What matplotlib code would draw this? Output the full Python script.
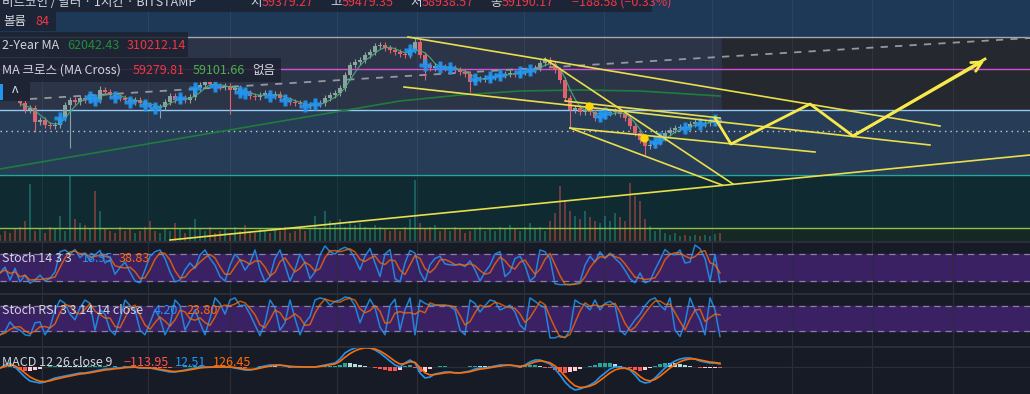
import matplotlib
matplotlib.use("Agg")
import matplotlib.pyplot as plt
from matplotlib.patches import Rectangle
import numpy as np
import pandas as pd

plt.rcParams['font.family'] = ['Noto Sans CJK KR', 'DejaVu Sans']

W, H = 1030, 394

# ---------------- data ----------------
# price samples every 5 bars, starting at bar 20
price_x = np.arange(20, 721, 5)
closes = [59700, 59000, 59200, 57800, 58000, 57500, 57400, 57500, 58200, 59500,
          60000, 59800, 60200, 60000, 60300, 60000, 61000, 60800, 60500, 60300,
          60200, 60000, 59800, 60000, 59700, 59500, 59400, 59200, 59300, 59800,
          60400, 60000, 60200, 60000, 60300, 61200, 61500, 61800, 61600, 61400,
          61300, 61400, 61000, 61200, 60800, 60700, 60400, 60300, 60500, 60700,
          60400, 60600, 60200, 60000, 59800, 59700, 59600, 59400, 59500, 59600,
          59700, 60200, 60500, 60700, 61200, 62500, 63500, 63800, 64000, 64500,
          64800, 65400, 65500, 65200, 65000, 64800, 64600, 64500, 65000, 65800,
          64500, 63500, 63200, 63400, 63300, 63200, 63200, 63000, 62800, 62600,
          61800, 62100, 62100, 62200, 62300, 62400, 62500, 62600, 62700, 62600,
          62800, 62900, 63000, 63200, 63700, 64000, 63600, 63000, 62000, 60200,
          59000, 59200, 58800, 59000, 58800, 58200, 58400, 58700, 58800, 58900,
          58600, 58200, 57400, 56700, 56000, 55400, 55500, 55800, 56200, 56700,
          57000, 57200, 57300, 57200, 57600, 57800, 57600, 57700, 57800, 58000,
          57800]
low_wicks = {35: 56800, 70: 55200, 160: 58200, 230: 58600, 425: 62000,
             470: 60800, 570: 57200, 645: 54500}
high_wicks = {100: 61400, 415: 66300, 545: 64300}

# buy-signal crosses (bar positions)
cross_x = [60, 90, 95, 115, 130, 145, 155, 180, 195, 215, 240, 245, 270, 285,
           305, 315, 410, 425, 440, 450, 475, 490, 500, 520, 530, 600, 605,
           655, 660, 685, 700, 715]
dot_x = [589, 644]
dot_y = [59400, 56200]

# long moving average
ma_long_x = [0, 100, 200, 300, 400, 460, 520, 580, 640, 720]
ma_long_y = [53100, 54800, 56500, 58200, 59900, 60500, 60900, 61000, 60900, 60400]

# indicators sampled every 5 bars from bar 0
ind_x = np.arange(0, 721, 5)
volume = [6, 10, 8, 12, 14, 20, 57, 10, 12, 8,
          14, 12, 25, 10, 65, 22, 18, 16, 12, 50,
          30, 12, 10, 8, 14, 10, 12, 8, 10, 14,
          20, 10, 8, 12, 10, 18, 12, 8, 14, 22,
          12, 10, 14, 8, 10, 12, 8, 14, 10, 16,
          10, 8, 12, 10, 8, 12, 10, 14, 8, 10,
          14, 10, 12, 25, 12, 30, 20, 18, 22, 14,
          20, 16, 18, 14, 12, 16, 14, 12, 10, 12,
          10, 14, 22, 61, 18, 12, 14, 16, 10, 12,
          10, 14, 12, 8, 10, 12, 14, 10, 12, 10,
          14, 12, 16, 12, 10, 14, 18, 12, 14, 10,
          20, 28, 55, 40, 30, 25, 22, 30, 24, 20,
          18, 25, 20, 28, 24, 20, 58, 45, 40, 22,
          15, 10, 12, 8, 6, 8, 5, 6, 5, 6,
          5, 6, 5, 7, 8]
stoch_k = [38, 51, 22, 48, 18, 33, 15, 22, 33, 20,
           26, 40, 85, 89, 80, 90, 72, 82, 65, 78,
           88, 60, 67, 35, 50, 62, 40, 20, 16, 45,
           75, 85, 89, 70, 40, 18, 22, 45, 60, 48,
           78, 89, 70, 55, 30, 20, 55, 80, 67, 44,
           60, 89, 45, 18, 30, 70, 89, 55, 20, 45,
           80, 60, 25, 40, 78, 98, 85, 80, 90, 95,
           89, 70, 45, 75, 92, 60, 30, 80, 90, 25,
           18, 60, 88, 82, 40, 20, 56, 70, 75, 58,
           56, 55, 58, 52, 65, 45, 20, 40, 55, 80,
           85, 30, 40, 70, 75, 55, 20, 30, 89, 85,
           70, 14, 12, 12, 12, 14, 18, 55, 75, 62,
           85, 70, 82, 70, 60, 44, 25, 16, 38, 16,
           20, 45, 67, 90, 80, 78, 89, 60, 62, 100,
           92, 70, 20, 78, 16]
stochrsi_k = [12, 20, 42, 28, 23, 12, 10, 40, 42, 12,
              30, 70, 93, 85, 60, 47, 75, 93, 85, 23,
              70, 60, 23, 12, 50, 93, 80, 70, 23, 12,
              40, 70, 50, 12, 35, 93, 80, 23, 45, 70,
              40, 12, 50, 98, 85, 60, 93, 98, 80, 81,
              60, 35, 10, 40, 93, 75, 23, 40, 93, 50,
              12, 40, 55, 93, 98, 95, 81, 90, 93, 100,
              98, 80, 40, 70, 95, 75, 30, 12, 80, 95,
              23, 70, 98, 12, 93, 85, 81, 80, 81, 81,
              78, 70, 23, 12, 93, 85, 65, 80, 93, 90,
              70, 75, 81, 65, 35, 23, 98, 90, 81, 75,
              5, 5, 10, 5, 23, 93, 85, 81, 70, 93,
              70, 85, 90, 81, 23, 12, 30, 47, 60, 80,
              93, 98, 81, 70, 98, 23, 8, 40, 98, 70,
              47, 12, 98, 70, 8]
macd_line = [-10, 20, 40, 0, -50, -100, -140, -150, -160, -150,
             -130, -110, -100, -90, -80, -70, -60, -60, -50, -40,
             -30, -20, -20, -10, -10, 0, 0, 0, -10, -10,
             -10, -20, -30, -40, -50, -50, -40, -30, -20, -10,
             0, 0, 0, 0, 0, 0, 0, -10, -20, -30,
             -30, -20, 0, 10, 20, 20, 20, 10, 0, 0,
             0, 0, 0, 0, 10, 20, 30, 40, 80, 140,
             170, 190, 200, 200, 190, 170, 140, 100, 60, 20,
             0, 40, 70, 40, -60, -110, -100, -70, -60, -50,
             -50, -60, -60, -50, -40, -20, -10, -10, 0, 10,
             20, 20, 20, 10, 0, 20, 50, 70, 70, 50,
             30, -20, -80, -150, -200, -230, -220, -200, -180, -150,
             -100, -60, -20, 0, 0, -10, -30, -80, -140, -160,
             -150, -110, -60, -10, 30, 60, 80, 90, 90, 80,
             60, 50, 40, 40, 30]

# horizontal levels drawn on the chart
lvl_gray, lvl_magenta, lvl_blue, lvl_dotted, lvl_teal, lvl_green = 66300, 63100, 59000, 56900, 52500, 47200

# yellow trendlines (bar, price)
trendlines = [((408, 66300), (940, 57400)),
              ((404, 61300), (930, 55500)),
              ((565, 59900), (720, 58200)),
              ((570, 57200), (815, 54800)),
              ((570, 57200), (722, 51500)),
              ((545, 64100), (733, 51600)),
              ((170, 46000), (1030, 54500))]
zigzag_x = [715, 731, 810, 853, 985]
zigzag_y = [58200, 55600, 59600, 56400, 64100]
dashed_x = [30, 1030]
dashed_y = [60100, 66200]

grid_x = [42, 148, 230, 337, 417, 524, 604, 712, 792, 872, 953]

# ---------------- figure ----------------
fig = plt.figure(figsize=(W / 100, H / 100), dpi=100)
fig.patch.set_facecolor('#171b26')


def rect(x0, y0, x1, y1):
    return [x0 / W, 1 - y1 / H, (x1 - x0) / W, (y1 - y0) / H]


ax = fig.add_axes(rect(0, 0, W, 241))
ax.set_xlim(0, W)
ax.set_ylim(45900, 70000)
ax.axis('off')

# background zones
ax.axhspan(45900, 70000, color='#273c57', zorder=0)
ax.fill_between([0, W], 66300, 70000, color='#1e3858', zorder=0)
ax.fill_between([0, 722], 59000, 66300, color='#2c3447', zorder=0)
ax.fill_between([722, W], 59000, 66300, color='#26282f', zorder=0)
ax.fill_between([0, W], 47200, 52500, color='#0f2b31', zorder=0)
ax.fill_between([0, W], 45900, 47200, color='#152826', zorder=0)
for gx in grid_x:
    ax.axvline(gx, color='white', alpha=0.06, lw=0.8, zorder=1)

# volume
closes_a = np.array(closes)
vol_up = []
for x in ind_x:
    if x <= 20:
        vol_up.append(False)
    else:
        i = (x - 20) // 5
        vol_up.append(closes_a[i] >= closes_a[i - 1])
vol_cols = ['#26a69a' if u else '#ef5350' for u in vol_up]
ax.bar(ind_x, np.array(volume) * 100, bottom=45900, width=2.4, color=vol_cols,
       alpha=0.42, zorder=2)

# horizontal levels
ax.axhline(lvl_gray, color='#a4a7b0', lw=1, zorder=3)
ax.axhline(lvl_magenta, color='#d84fd6', lw=1, zorder=3)
ax.axhline(lvl_blue, color='#90caf9', lw=1, zorder=3)
ax.axhline(lvl_dotted, color='#c9cbd1', lw=1, ls=(0, (1, 3)), zorder=3)
ax.axhline(lvl_teal, color='#26a69a', lw=1, zorder=3)
ax.axhline(lvl_green, color='#8bc34a', lw=1, zorder=3)

ax.plot(dashed_x, dashed_y, color='#9598a1', lw=1.3, ls=(0, (4, 4)), zorder=3)
ax.plot(ma_long_x, ma_long_y, color='#1e7d3c', lw=1.2, zorder=3)

# candles
opens = [closes[0] + 200] + closes[:-1]
up_col, down_col = '#8aa3a0', '#e0626e'
for x, o, c in zip(price_x, opens, closes):
    col = up_col if c >= o else down_col
    hi = high_wicks.get(int(x), max(o, c) + 280)
    lo = low_wicks.get(int(x), min(o, c) - 280)
    ax.vlines(x, lo, hi, color=col, lw=0.8, zorder=4)
    ax.bar(x, max(abs(c - o), 100), bottom=min(o, c), width=3.4, color=col, zorder=4)

ma_short = pd.Series(closes).rolling(4, min_periods=1).mean()
ax.plot(price_x, ma_short, color='#4caf7d', lw=0.9, alpha=0.85, zorder=5)

cross_y = [closes[(x - 20) // 5] for x in cross_x]
ax.plot(cross_x, cross_y, 'P', color='#2196f3', ms=8.5, mec='none', alpha=0.9, zorder=6)

# drawings
for (x0, y0), (x1, y1) in trendlines:
    ax.plot([x0, x1], [y0, y1], color='#e9df4c', lw=1.2, zorder=7)
ax.plot(zigzag_x, zigzag_y, color='#f7e94a', lw=2, zorder=7)
ax.annotate('', xy=(zigzag_x[-1] + 2, zigzag_y[-1]), xytext=(zigzag_x[-2], zigzag_y[-2]),
            arrowprops=dict(arrowstyle='->', color='#f7e94a', lw=2, mutation_scale=18),
            zorder=7)
ax.plot(dot_x, dot_y, 'o', color='#ffd600', ms=5, zorder=8)


# ---------------- oscillator panes ----------------
def osc_pane(y0, y1, ylim, k):
    a = fig.add_axes(rect(0, y0, W, y1))
    a.set_xlim(0, W)
    a.set_ylim(*ylim)
    a.axis('off')
    a.add_patch(Rectangle((0, ylim[0]), W, ylim[1] - ylim[0], color='#171b26', zorder=0))
    a.axhspan(20, 80, color='#3a2163', zorder=1)
    a.axhline(80, color='#8a7fa0', lw=0.9, ls=(0, (5, 4)), zorder=2)
    a.axhline(20, color='#8a7fa0', lw=0.9, ls=(0, (5, 4)), zorder=2)
    for gx in grid_x:
        a.axvline(gx, color='#2a2e39', lw=0.8, zorder=1)
    d = pd.Series(k).rolling(3, min_periods=1).mean()
    a.plot(ind_x, k, color='#2196f3', lw=1.1, alpha=0.85, zorder=3)
    a.plot(ind_x, d, color='#ff6d00', lw=1.1, alpha=0.75, zorder=3)
    return a


osc_pane(242, 293, (-6.7, 106.7), stoch_k)
osc_pane(294, 346, (-14, 107), stochrsi_k)

am = fig.add_axes(rect(0, 347, W, 394))
am.set_xlim(0, W)
am.set_ylim(-270, 200)
am.axis('off')
am.add_patch(Rectangle((0, -270), W, 470, color='#171b26', zorder=0))
for gx in grid_x:
    am.axvline(gx, color='#2a2e39', lw=0.8, zorder=1)
am.axhline(0, color='#2a2e39', lw=0.8, zorder=1)
signal = pd.Series(macd_line).ewm(span=3, adjust=False).mean().values
hist = np.array(macd_line) - signal
prev = np.concatenate([[0], hist[:-1]])
hcols = []
for h, p in zip(hist, prev):
    if h >= 0:
        hcols.append('#26a69a' if h >= p else '#b2dfdb')
    else:
        hcols.append('#ff5252' if h < p else '#ffcdd2')
am.bar(ind_x, hist, width=3.5, color=hcols, zorder=2)
am.plot(ind_x, macd_line, color='#2196f3', lw=1.2, zorder=3)
am.plot(ind_x, signal, color='#ff6d00', lw=1.2, zorder=3)

# ---------------- overlay: separators, labels ----------------
ov = fig.add_axes([0, 0, 1, 1])
ov.set_xlim(0, W)
ov.set_ylim(H, 0)
ov.axis('off')
ov.patch.set_alpha(0)
for sy in [241.5, 293.5, 346.5]:
    ov.plot([0, W], [sy, sy], color='#2a2e39', lw=1.5)

boxes = [(0, 0, 652, 12), (0, 12, 56, 31), (0, 32, 188, 57), (0, 58, 281, 82), (0, 82, 30, 101)]
for x0, y0, x1, y1 in boxes:
    ov.add_patch(Rectangle((x0, y0), x1 - x0, y1 - y0, color='#1c2230', alpha=0.85, lw=0))
ov.add_patch(Rectangle((0, 84), 3, 16, color='#2196f3', lw=0))
ov.text(15, 93, '^', color='#d1d4dc', fontsize=11, ha='center', va='center')

fs = 9
txt = '#d1d4dc'
red = '#f23645'
# top row is partly scrolled off the top edge, as in the screenshot
row1 = [(2, '비트코인 / 달러 · 1시간 · BITSTAMP', txt), (250, '시', txt), (262, '59379.27', red),
        (330, '고', txt), (342, '59479.35', red), (410, '저', txt), (422, '58938.57', red),
        (490, '종', txt), (502, '59190.17', red), (572, '−188.58 (−0.33%)', red)]
for x, s, c in row1:
    ov.text(x, 2, s, color=c, fontsize=fs, va='center')

labels = [(3, 21, '볼륨', txt), (35, 21, '84', red),
          (2, 45, '2-Year MA', txt), (67, 45, '62042.43', '#1e8e3e'), (127, 45, '310212.14', red),
          (2, 70, 'MA 크로스 (MA Cross)', txt), (133, 70, '59279.81', red),
          (193, 70, '59101.66', '#4caf50'), (252, 70, '없음', txt),
          (2, 258, 'Stoch 14 3 3', txt), (82, 258, '18.95', '#2196f3'), (119, 258, '38.83', '#ff6d00'),
          (2, 311, 'Stoch RSI 3 3 14 14 close', txt), (154, 311, '4.20', '#2196f3'),
          (186, 311, '23.80', '#ff6d00'),
          (2, 363, 'MACD 12 26 close 9', txt), (123, 363, '−113.95', '#ff5252'),
          (175, 363, '12.51', '#2196f3'), (213, 363, '126.45', '#ff6d00')]
for x, y, s, c in labels:
    ov.text(x, y, s, color=c, fontsize=fs, va='center')

fig.savefig('out.png', dpi=100, facecolor=fig.get_facecolor())
